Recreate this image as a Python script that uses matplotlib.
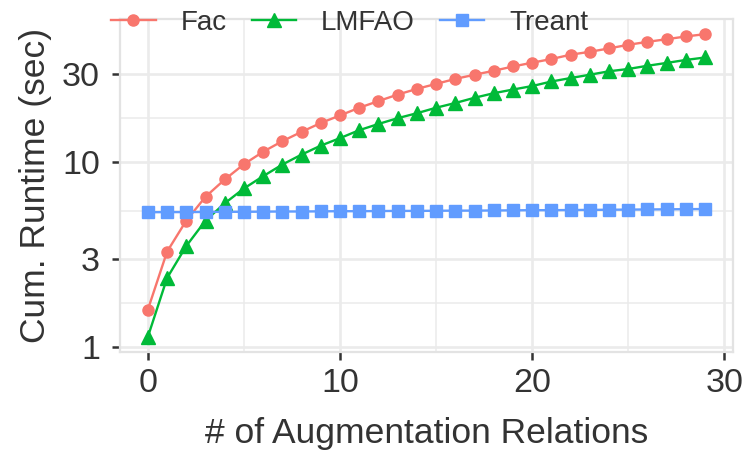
import numpy as np
import matplotlib.pyplot as plt
from matplotlib.ticker import FixedLocator, NullFormatter

plt.rcParams['font.family'] = ['Liberation Sans', 'DejaVu Sans']

relations = list(range(30))
fac = [1.60, 3.29, 4.84, 6.51, 8.07, 9.76, 11.4, 13.0, 14.6, 16.3,
       17.9, 19.7, 21.4, 23.2, 24.9, 26.5, 28.2, 29.7, 31.2, 32.9,
       34.5, 36.1, 38.1, 39.5, 41.2, 43.1, 44.7, 46.2, 47.8, 49.2]
lmfao = [1.14, 2.37, 3.53, 4.84, 6.00, 7.22, 8.41, 9.72, 11.0, 12.3,
         13.5, 14.9, 16.1, 17.3, 18.4, 19.7, 20.9, 22.3, 23.6, 24.7,
         25.8, 27.3, 28.5, 29.7, 31.0, 31.9, 33.2, 34.4, 35.7, 36.8]
treant = [5.37, 5.38, 5.38, 5.39, 5.40, 5.40, 5.41, 5.42, 5.42, 5.43,
          5.44, 5.44, 5.45, 5.46, 5.46, 5.47, 5.48, 5.48, 5.49, 5.50,
          5.51, 5.51, 5.52, 5.53, 5.54, 5.55, 5.56, 5.57, 5.58, 5.59]

y_ticks = [1, 3, 10, 30]
x_ticks = [0, 10, 20, 30]

fig = plt.figure(figsize=(7.47, 4.68), dpi=100)
ax = fig.add_axes([120/747, 1 - 352/468, (733 - 120)/747, (352 - 19)/468])

ax.plot(relations, fac, color='#F8766D', marker='o', markersize=8, lw=1.7, label='Fac')
ax.plot(relations, lmfao, color='#00BA38', marker='^', markersize=10, lw=1.7, label='LMFAO')
ax.plot(relations, treant, color='#619CFF', marker='s', markersize=8, lw=1.7, label='Treant')

ax.set_yscale('log')
ax.set_xlim(-1.45, 30.45)
# ggplot style 5% expansion on the log scale
lo, hi = np.log10(min(lmfao)), np.log10(max(fac))
pad = (hi - lo) * 0.05
ax.set_ylim(10 ** (lo - pad), 10 ** (hi + pad))

ax.yaxis.set_major_locator(FixedLocator(y_ticks))
ax.set_yticklabels([str(t) for t in y_ticks])
lt = np.log10(y_ticks)
ax.yaxis.set_minor_locator(FixedLocator(10 ** ((lt[:-1] + lt[1:]) / 2)))
ax.yaxis.set_minor_formatter(NullFormatter())
ax.set_xticks(x_ticks)
ax.xaxis.set_minor_locator(FixedLocator([5, 15, 25]))

ax.grid(which='major', color='#EBEBEB', lw=1.9)
ax.grid(which='minor', color='#EBEBEB', lw=1.1)
ax.set_axisbelow(True)
ax.tick_params(which='major', length=5.5, width=1.8, color='#333333',
               labelsize=24.5, labelcolor='#333333')
ax.tick_params(axis='y', pad=9)
ax.tick_params(axis='x', pad=6)
ax.tick_params(which='minor', length=0)
for s in ax.spines.values():
    s.set_color('#E3E3E3')
    s.set_linewidth(1.6)

ax.set_xlabel('# of Augmentation Relations', fontsize=25.5, color='#333333')
ax.set_ylabel('Cum. Runtime (sec)', fontsize=25.5, color='#333333')
ax.xaxis.set_label_coords(0.5, -0.195)
ax.yaxis.set_label_coords(-0.111, 0.5)

fig.legend(loc='center left', bbox_to_anchor=(100/747, 1 - 23/468), ncol=3,
           frameon=False, fontsize=20, handlelength=1.6, handletextpad=0.9,
           columnspacing=0.9, borderaxespad=0, labelcolor='#333333')

fig.savefig('out.png', dpi=100)
